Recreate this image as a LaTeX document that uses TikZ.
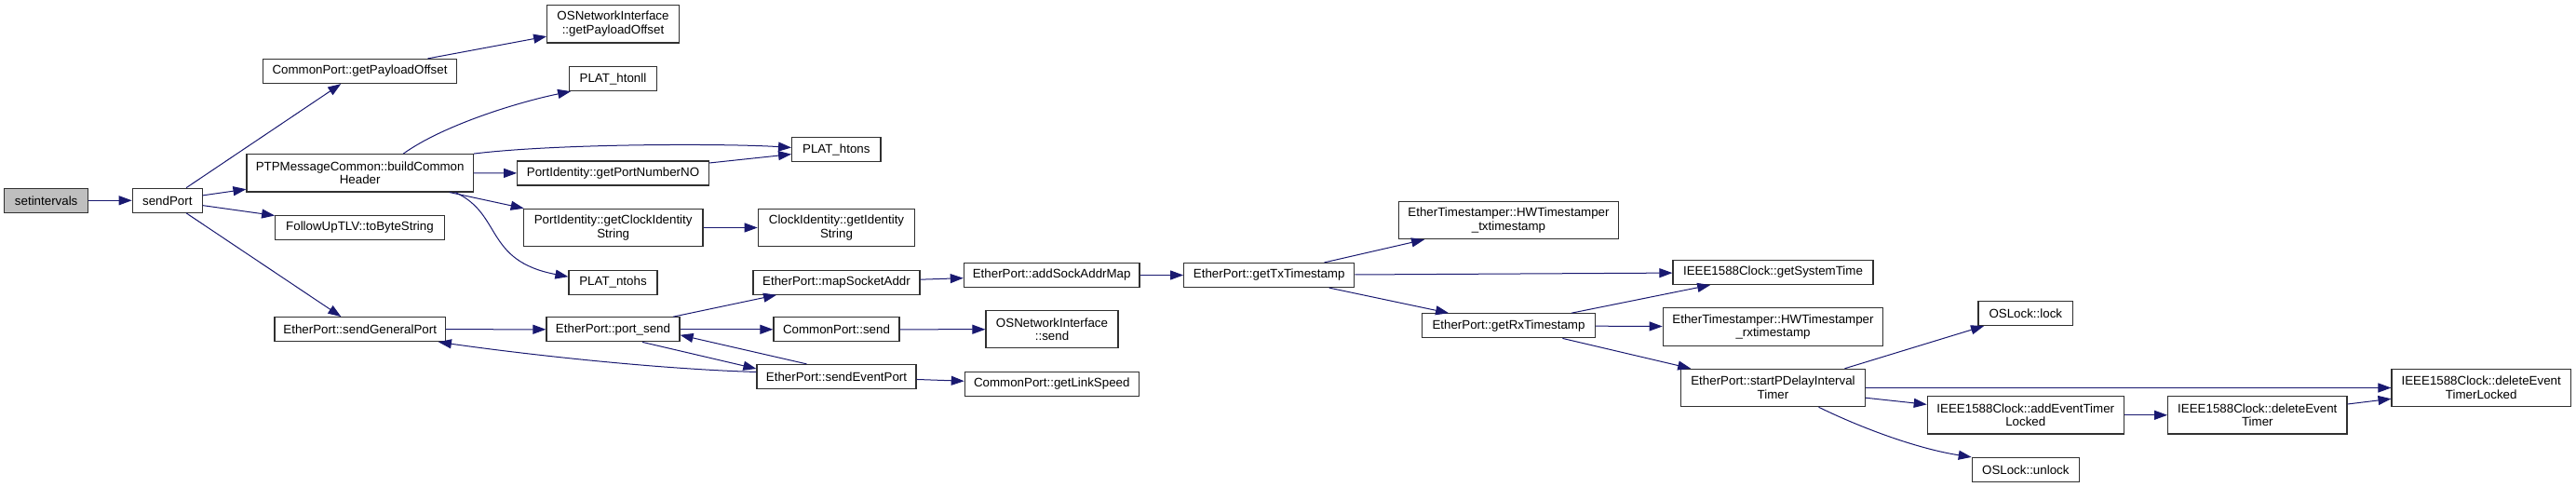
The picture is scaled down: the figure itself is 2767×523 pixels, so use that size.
\documentclass[tikz,border=0pt]{standalone}
\usepackage{fontspec}
\setmainfont{Liberation Sans}
\usetikzlibrary{calc, positioning}
\usetikzlibrary{arrows.meta}

\definecolor{edgeblue}{HTML}{191970}
\definecolor{rootgray}{HTML}{BFBFBF}
\definecolor{boxline}{HTML}{303030}

\tikzset{
  fnbox/.style={draw=boxline, line width=0.9pt, fill=white, inner sep=0pt,
    minimum height=19.5pt, minimum width=#1*0.75pt, align=center,
    font=\fontsize{10}{11}\selectfont},
  fnboxii/.style={fnbox=#1, minimum height=30.2pt},
  call/.style={draw=edgeblue, line width=0.75pt,
    -{Triangle[length=10.5pt,width=7.5pt]}},
}

\begin{document}
\begin{tikzpicture}[x=0.75pt, y=-0.75pt]
\useasboundingbox (0,0) rectangle (2767,523);

% first columns
\node[fnbox=90, fill=rootgray] (setint) at (49.7,215.3) {setintervals};
\node[fnbox=75] (sendPort) at (179.8,215.3) {sendPort};
\node[fnbox=208] (cpPayload) at (386.5,76.5) {CommonPort::getPayloadOffset};
\node[fnboxii=243.3] (ptpHeader) at (386.7,185.8) {PTPMessageCommon::buildCommon\\Header};
\node[fnbox=181.6] (followUp) at (386.5,244.3) {FollowUpTLV::toByteString};
\node[fnbox=183.3] (sendGeneral) at (386.7,353.7) {EtherPort::sendGeneralPort};

\node[fnboxii=141.6] (osniPayload) at (658.5,25.8) {OSNetworkInterface\\::getPayloadOffset};
\node[fnbox=93.6] (htonll) at (658.5,84.5) {PLAT\_htonll};
\node[fnbox=205.6] (portNumNO) at (658.5,186) {PortIdentity::getPortNumberNO};
\node[fnboxii=192.7] (clockIdStr) at (658.7,244.5) {PortIdentity::getClockIdentity\\String};
\node[fnbox=95] (ntohs) at (658.5,303.2) {PLAT\_ntohs};
\node[fnbox=143] (portSend) at (658.5,353.8) {EtherPort::port\_send};

\node[fnbox=95.3] (htons) at (898.3,160.5) {PLAT\_htons};
\node[fnboxii=168.4] (ciIdStr) at (898.5,244.5) {ClockIdentity::getIdentity\\String};
\node[fnbox=179] (mapSock) at (898.5,303.2) {EtherPort::mapSocketAddr};
\node[fnbox=135] (cpSend) at (898.5,353.8) {CommonPort::send};
\node[fnbox=171] (sendEvent) at (898.5,404.5) {EtherPort::sendEventPort};

% middle columns
\node[fnbox=188.7] (addSock) at (1129.7,295.5) {EtherPort::addSockAddrMap};
\node[fnboxii=142] (osniSend) at (1130,353.7) {OSNetworkInterface\\::send};
\node[fnbox=187] (linkSpeed) at (1129.8,412.5) {CommonPort::getLinkSpeed};
\node[fnbox=183] (txTs) at (1363.2,295.5) {EtherPort::getTxTimestamp};

\node[fnboxii=236.4] (hwTx) at (1620.5,236.5) {EtherTimestamper::HWTimestamper\\\_txtimestamp};
\node[fnbox=185.6] (rxTs) at (1620.5,349.8) {EtherPort::getRxTimestamp};

\node[fnbox=215] (sysTime) at (1904.5,292.5) {IEEE1588Clock::getSystemTime};
\node[fnboxii=236.4] (hwRx) at (1904.5,351) {EtherTimestamper::HWTimestamper\\\_rxtimestamp};
\node[fnboxii=197.7] (startPD) at (1904.5,416.5) {EtherPort::startPDelayInterval\\Timer};

% last columns
\node[fnbox=101.7] (osLock) at (2175.8,336.5) {OSLock::lock};
\node[fnboxii=211] (addTimer) at (2175.8,445.8) {IEEE1588Clock::addEventTimer\\Locked};
\node[fnbox=115] (osUnlock) at (2175.8,504.5) {OSLock::unlock};
\node[fnboxii=192.3] (delTimer) at (2424.8,445.8) {IEEE1588Clock::deleteEvent\\Timer};
\node[fnboxii=192.3] (delTimerLocked) at (2665.2,416.5) {IEEE1588Clock::deleteEvent\\TimerLocked};

% calls
\draw[call] (setint) -- (sendPort);
\draw[call] (sendPort) -- (cpPayload);
\draw[call] (sendPort) -- (ptpHeader);
\draw[call] (sendPort) -- (followUp);
\draw[call] (sendPort) -- (sendGeneral);
\draw[call] (cpPayload) -- (osniPayload);
\draw[call] ($(ptpHeader.north)+(46.6,0)$) .. controls (475,135) and (555,110) .. ($(htonll.south west)+(2,0)$);
\draw[call] (ptpHeader.north east) .. controls (600,154) and (780,154) .. ($(htons.west)+(0,-2)$);
\draw[call] (ptpHeader) -- (portNumNO);
\draw[call] (ptpHeader) -- (clockIdStr);
\draw[call] ($(ptpHeader.south east)+(-20,0)$) .. controls (540,230) and (520,280) .. ($(ntohs.west)+(0,-6)$);
\draw[call] (portNumNO) -- (htons);
\draw[call] (clockIdStr) -- (ciIdStr);
\draw[call] (sendGeneral) -- (portSend);
\draw[call] (portSend) -- (mapSock);
\draw[call] (portSend) -- (cpSend);
\draw[call] ($(portSend.south)+(31.5,0)$) -- ($(sendEvent.west)+(0,-8.5)$);
\draw[call] ($(sendEvent.north)+(-32,0)$) -- ($(portSend.east)+(0,6)$);
\draw[call] ($(sendEvent.west)+(0,-5)$) .. controls (700,396) and (560,380) .. ($(sendGeneral.south east)+(-8,0)$);
\draw[call] (mapSock) -- (addSock);
\draw[call] (cpSend) -- (osniSend);
\draw[call] (sendEvent) -- (linkSpeed);
\draw[call] (addSock) -- (txTs);
\draw[call] (txTs) -- (hwTx);
\draw[call] (txTs) -- (sysTime);
\draw[call] (txTs) -- (rxTs);
\draw[call] (rxTs) -- (sysTime);
\draw[call] (rxTs) -- (hwRx);
\draw[call] (rxTs) -- (startPD);
\draw[call] ($(startPD.north)+(77,0)$) -- ($(osLock.south west)+(6.7,0)$);
\draw[call] (startPD) -- (delTimerLocked);
\draw[call] (startPD) -- (addTimer);
\draw[call] ($(startPD.south)+(49,0)$) .. controls (2000,460) and (2060,482) .. (osUnlock.north west);
\draw[call] (addTimer) -- (delTimer);
\draw[call] (delTimer) -- (delTimerLocked);
\end{tikzpicture}
\end{document}
